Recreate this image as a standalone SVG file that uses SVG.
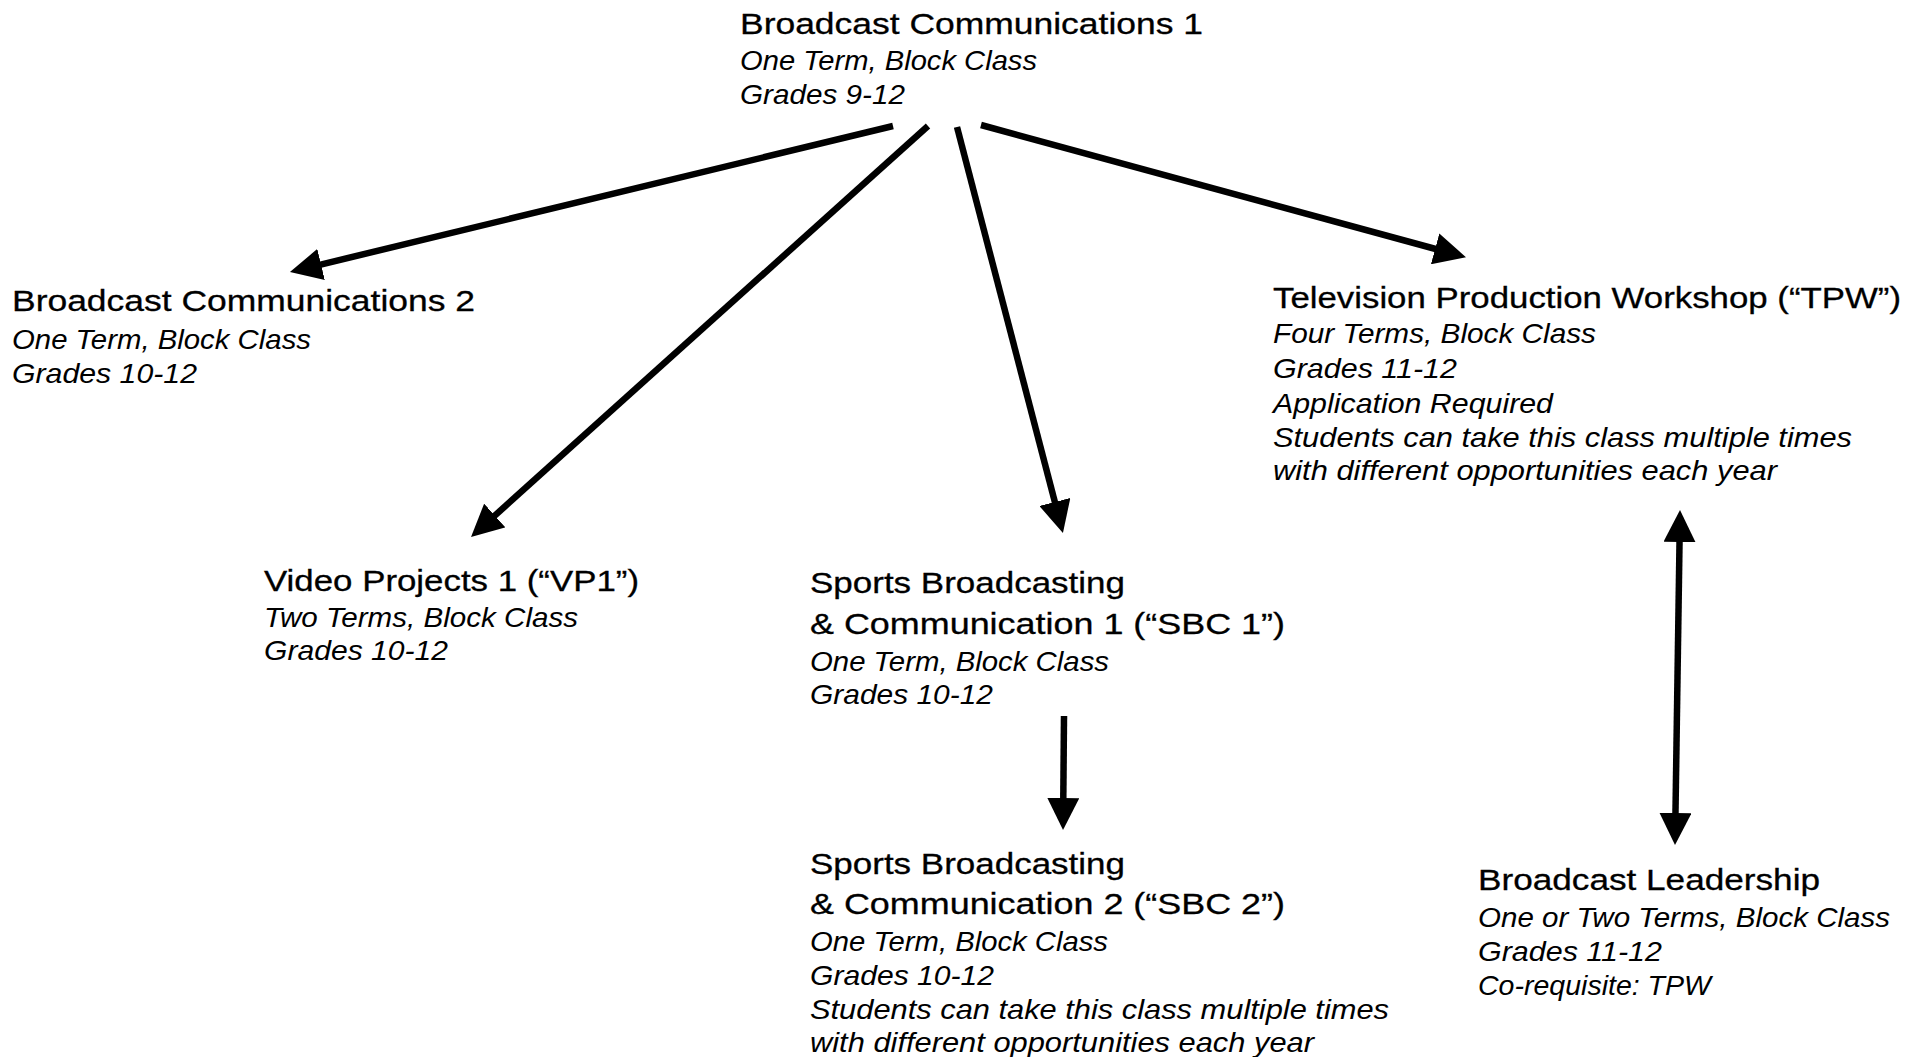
<svg xmlns="http://www.w3.org/2000/svg" width="1921" height="1057" viewBox="0 0 1921 1057">
<style>
.t{font-family:"Liberation Sans",Arial,sans-serif;font-size:30px;fill:#000;stroke:#000;stroke-width:0.3px}
.i{font-family:"Liberation Sans",Arial,sans-serif;font-size:27.5px;font-style:italic;fill:#000}
.c{stroke:#000;stroke-width:6.5;fill:none}
</style>
<defs>
<marker id="ah" markerUnits="userSpaceOnUse" viewBox="0 0 32 32" markerWidth="32" markerHeight="32" refX="12" refY="16" orient="auto-start-reverse"><path d="M0,0 L32,16 L0,32 z" fill="#000"/></marker>
</defs>
<rect width="1921" height="1057" fill="#fff"/>
<g id="connectors">
<path class="c" d="M893,126 L309.4,267.3" marker-end="url(#ah)"/>
<path class="c" d="M928,126 L485.9,523.6" marker-end="url(#ah)"/>
<path class="c" d="M957,127 L1057.9,513.6" marker-end="url(#ah)"/>
<path class="c" d="M981,125 L1446.7,252" marker-end="url(#ah)"/>
<path class="c" d="M1064,716 L1063.2,810" marker-end="url(#ah)"/>
<path class="c" d="M1679.7,530 L1675.3,825" marker-start="url(#ah)" marker-end="url(#ah)"/>
</g>
<g id="bc1">
<text class="t" x="740" y="34" textLength="463" lengthAdjust="spacingAndGlyphs">Broadcast Communications 1</text>
<text class="i" x="740" y="70" textLength="297" lengthAdjust="spacingAndGlyphs">One Term, Block Class</text>
<text class="i" x="740" y="104" textLength="165" lengthAdjust="spacingAndGlyphs">Grades 9-12</text>
</g>
<g id="bc2">
<text class="t" x="12" y="311" textLength="463" lengthAdjust="spacingAndGlyphs">Broadcast Communications 2</text>
<text class="i" x="12" y="349" textLength="299" lengthAdjust="spacingAndGlyphs">One Term, Block Class</text>
<text class="i" x="12" y="383" textLength="185" lengthAdjust="spacingAndGlyphs">Grades 10-12</text>
</g>
<g id="vp1">
<text class="t" x="264" y="591" textLength="375" lengthAdjust="spacingAndGlyphs">Video Projects 1 (“VP1”)</text>
<text class="i" x="264" y="627" textLength="314" lengthAdjust="spacingAndGlyphs">Two Terms, Block Class</text>
<text class="i" x="264" y="660" textLength="184" lengthAdjust="spacingAndGlyphs">Grades 10-12</text>
</g>
<g id="sbc1">
<text class="t" x="810" y="593" textLength="315" lengthAdjust="spacingAndGlyphs">Sports Broadcasting</text>
<text class="t" x="810" y="634" textLength="475" lengthAdjust="spacingAndGlyphs">&amp; Communication 1 (“SBC 1”)</text>
<text class="i" x="810" y="671" textLength="299" lengthAdjust="spacingAndGlyphs">One Term, Block Class</text>
<text class="i" x="810" y="704" textLength="183" lengthAdjust="spacingAndGlyphs">Grades 10-12</text>
</g>
<g id="sbc2">
<text class="t" x="810" y="874" textLength="315" lengthAdjust="spacingAndGlyphs">Sports Broadcasting</text>
<text class="t" x="810" y="914" textLength="475" lengthAdjust="spacingAndGlyphs">&amp; Communication 2 (“SBC 2”)</text>
<text class="i" x="810" y="951" textLength="298" lengthAdjust="spacingAndGlyphs">One Term, Block Class</text>
<text class="i" x="810" y="985" textLength="184" lengthAdjust="spacingAndGlyphs">Grades 10-12</text>
<text class="i" x="810" y="1019" textLength="579" lengthAdjust="spacingAndGlyphs">Students can take this class multiple times</text>
<text class="i" x="810" y="1052" textLength="504" lengthAdjust="spacingAndGlyphs">with different opportunities each year</text>
</g>
<g id="tpw">
<text class="t" x="1273" y="308" textLength="628" lengthAdjust="spacingAndGlyphs">Television Production Workshop (“TPW”)</text>
<text class="i" x="1273" y="343" textLength="323" lengthAdjust="spacingAndGlyphs">Four Terms, Block Class</text>
<text class="i" x="1273" y="378" textLength="184" lengthAdjust="spacingAndGlyphs">Grades 11-12</text>
<text class="i" x="1273" y="413" textLength="280" lengthAdjust="spacingAndGlyphs">Application Required</text>
<text class="i" x="1273" y="447" textLength="579" lengthAdjust="spacingAndGlyphs">Students can take this class multiple times</text>
<text class="i" x="1273" y="480" textLength="504" lengthAdjust="spacingAndGlyphs">with different opportunities each year</text>
</g>
<g id="bl">
<text class="t" x="1478" y="890" textLength="342" lengthAdjust="spacingAndGlyphs">Broadcast Leadership</text>
<text class="i" x="1478" y="927" textLength="412" lengthAdjust="spacingAndGlyphs">One or Two Terms, Block Class</text>
<text class="i" x="1478" y="961" textLength="184" lengthAdjust="spacingAndGlyphs">Grades 11-12</text>
<text class="i" x="1478" y="995" textLength="233" lengthAdjust="spacingAndGlyphs">Co-requisite: TPW</text>
</g>
</svg>
